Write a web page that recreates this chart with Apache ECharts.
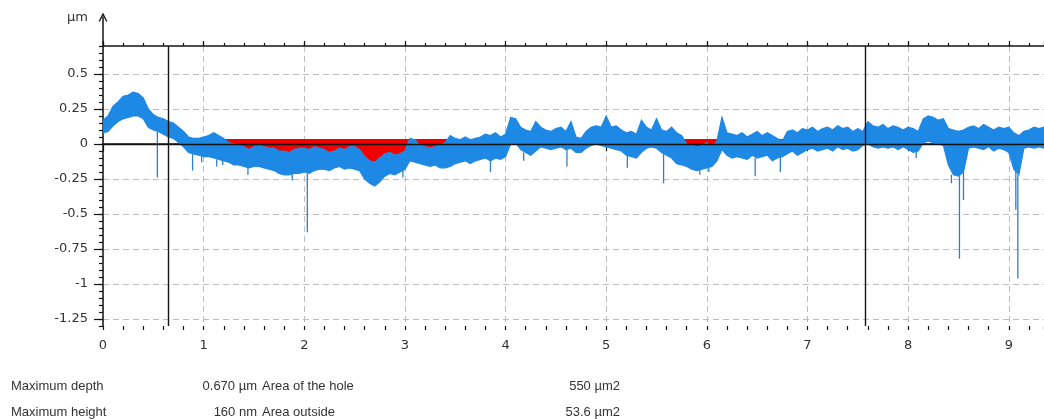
<!DOCTYPE html>
<html>
<head>
<meta charset="utf-8">
<title>Surface profile</title>
<script src="https://cdn.jsdelivr.net/npm/echarts@6/dist/echarts.min.js"></script>
<style>
  html, body { margin: 0; padding: 0; background: #ffffff; }
  #chart { width: 1044px; height: 419px; }
</style>
</head>
<body>
<div id="chart"></div>
<script>
// Profile sampling step along the scan, µm
const STEP = 0.05;

// Upper and lower edge of the measured profile band (µm), one value per step from 0 to 9.35
const PROFILE_TOP = [
  0.17, 0.20, 0.27, 0.30, 0.34, 0.35, 0.37, 0.36, 0.33, 0.25,
  0.21, 0.19, 0.18, 0.16, 0.15, 0.12, 0.09, 0.05, 0.04, 0.04,
  0.05, 0.06, 0.08, 0.06, 0.04, 0.01, 0.00, -0.01, -0.02, -0.04,
  -0.02, -0.01, -0.02, -0.03, -0.03, -0.05, -0.05, -0.06, -0.04, -0.03,
  -0.03, -0.04, -0.02, -0.03, -0.04, -0.06, -0.05, -0.03, -0.04, -0.02,
  -0.02, -0.04, -0.09, -0.12, -0.13, -0.10, -0.07, -0.06, -0.08, -0.07,
  -0.05, 0.04, 0.03, -0.01, -0.02, -0.03, -0.02, -0.01, 0.01, 0.06,
  0.04, 0.03, 0.05, 0.03, 0.04, 0.05, 0.07, 0.06, 0.08, 0.05,
  0.07, 0.19, 0.18, 0.12, 0.10, 0.09, 0.16, 0.12, 0.10, 0.09,
  0.11, 0.12, 0.09, 0.16, 0.05, 0.04, 0.09, 0.12, 0.13, 0.12,
  0.20, 0.12, 0.13, 0.10, 0.08, 0.09, 0.07, 0.17, 0.12, 0.10,
  0.18, 0.10, 0.09, 0.12, 0.08, 0.06, 0.00, -0.01, -0.02, -0.01,
  0.01, -0.02, 0.02, 0.19, 0.08, 0.07, 0.06, 0.08, 0.05, 0.07,
  0.09, 0.06, 0.08, 0.06, 0.04, 0.02, 0.09, 0.10, 0.08, 0.11,
  0.10, 0.12, 0.09, 0.11, 0.12, 0.10, 0.13, 0.11, 0.12, 0.09,
  0.11, 0.09, 0.16, 0.13, 0.12, 0.14, 0.11, 0.13, 0.12, 0.10,
  0.12, 0.11, 0.09, 0.18, 0.20, 0.19, 0.17, 0.18, 0.11, 0.10,
  0.09, 0.10, 0.12, 0.13, 0.11, 0.14, 0.12, 0.10, 0.12, 0.11,
  0.12, 0.08, 0.06, 0.09, 0.10, 0.12, 0.11, 0.12
];
const PROFILE_LOW = [
  0.08, 0.09, 0.13, 0.16, 0.18, 0.19, 0.20, 0.20, 0.18, 0.12,
  0.10, 0.09, 0.07, 0.05, 0.04, 0.01, -0.02, -0.06, -0.07, -0.08,
  -0.09, -0.09, -0.10, -0.11, -0.12, -0.13, -0.15, -0.15, -0.16, -0.17,
  -0.16, -0.16, -0.17, -0.18, -0.19, -0.21, -0.22, -0.22, -0.21, -0.21,
  -0.20, -0.21, -0.19, -0.18, -0.18, -0.19, -0.17, -0.16, -0.18, -0.17,
  -0.18, -0.19, -0.25, -0.28, -0.30, -0.27, -0.23, -0.21, -0.22, -0.20,
  -0.18, -0.12, -0.13, -0.14, -0.15, -0.16, -0.15, -0.17, -0.17, -0.16,
  -0.14, -0.13, -0.12, -0.14, -0.12, -0.11, -0.10, -0.12, -0.10, -0.11,
  -0.09, 0.00, 0.01, -0.04, -0.06, -0.08, -0.05, -0.02, -0.03, -0.04,
  -0.03, -0.02, -0.04, -0.03, -0.06, -0.06, -0.03, -0.01, 0.00, -0.01,
  -0.02, -0.03, -0.04, -0.05, -0.08, -0.09, -0.10, -0.06, -0.03, -0.02,
  -0.03, -0.06, -0.08, -0.10, -0.14, -0.15, -0.16, -0.18, -0.19, -0.18,
  -0.17, -0.16, -0.12, -0.04, -0.08, -0.10, -0.09, -0.10, -0.11, -0.08,
  -0.10, -0.09, -0.08, -0.12, -0.10, -0.09, -0.07, -0.05, -0.08, -0.06,
  -0.04, -0.03, -0.05, -0.04, -0.03, -0.05, -0.02, -0.04, -0.03, -0.05,
  -0.04, -0.01, 0.00, -0.02, -0.03, -0.02, -0.03, -0.02, -0.04, -0.02,
  -0.04, -0.06, -0.05, 0.01, 0.02, 0.01, 0.00, -0.01, -0.15, -0.22,
  -0.23, -0.20, -0.03, -0.02, -0.03, -0.04, -0.02, -0.05, -0.03, -0.04,
  -0.06, -0.18, -0.22, -0.03, -0.02, -0.03, -0.02, -0.03
];

// Narrow downward spikes: position (µm) and lowest value (µm)
const SPIKE_X     = [0.54, 0.89, 0.98, 1.13, 1.19, 1.44, 1.88, 2.03, 2.98, 3.85, 4.18, 4.61, 5.21, 5.57, 5.93, 6.02, 6.48, 6.73, 8.08, 8.43, 8.51, 8.55, 9.07, 9.09];
const SPIKE_DEPTH = [-0.24, -0.19, -0.13, -0.16, -0.15, -0.22, -0.26, -0.63, -0.24, -0.20, -0.12, -0.16, -0.17, -0.28, -0.22, -0.20, -0.23, -0.20, -0.10, -0.28, -0.82, -0.40, -0.47, -0.96];

// Measurement cursors (µm) and the reference level of the hole (µm)
const CURSORS = [0.646, 7.565];
const HOLE_LEVEL = 0.035;

// Axis ranges
const X_RANGE = [0, 9.35];
const Y_RANGE = [-1.3, 0.7];
const Y_LABEL_RANGE = [-1.25, 0.5];

// Results table
const STAT_NAMES  = ['Maximum depth', 'Maximum height'];
const STAT_VALUES = ['0.670 µm', '160 nm'];
const AREA_NAMES  = ['Area of the hole', 'Area outside'];
const AREA_VALUES = ['550 µm2', '53.6 µm2'];

const FONT = '"Liberation Sans", Arial, sans-serif';
const TICK_FONT = '"DejaVu Sans", Verdana, sans-serif';
const BLUE = '#1e88e5';
const SPIKE_BLUE = '#2f7fc6';
const INK = '#141414';
const GRID_DASH = { type: [6, 4], color: '#bdbdbd', width: 1 };

const xs = PROFILE_TOP.map((_, i) => +(i * STEP).toFixed(2));
const bandRows = xs.map((x, i) => [x, PROFILE_TOP[i], PROFILE_LOW[i]]);
const holeData = xs.map((x, i) => [x,
  (x >= CURSORS[0] && x <= CURSORS[1]) ? Math.min(PROFILE_TOP[i], HOLE_LEVEL) : HOLE_LEVEL]);
const spikeData = [];
SPIKE_X.forEach((x, k) => {
  const base = PROFILE_LOW[Math.round(x / STEP)];
  spikeData.push([x, base], [x, SPIKE_DEPTH[k]], [x, '-']);
});

// The profile band is one closed outline: along the upper edge, back along the lower edge
function renderBand(params, api) {
  if (params.dataIndex !== 0) return null;
  const pts = [];
  for (let i = 0; i < bandRows.length; i++) pts.push(api.coord([bandRows[i][0], bandRows[i][1]]));
  for (let i = bandRows.length - 1; i >= 0; i--) pts.push(api.coord([bandRows[i][0], bandRows[i][2]]));
  return {
    type: 'polygon',
    shape: { points: pts },
    style: { fill: BLUE, stroke: BLUE, lineWidth: 1.2, lineJoin: 'miter' }
  };
}

const hidden = { show: false };
const tickOnly = (len) => ({ show: true, length: len, lineStyle: { color: INK, width: 1.2 } });

const tableTexts = [];
[[STAT_NAMES, 11, 'left'], [STAT_VALUES, 257, 'right'], [AREA_NAMES, 262, 'left'], [AREA_VALUES, 620, 'right']]
  .forEach(([col, x, align]) => {
    col.forEach((t, r) => {
      tableTexts.push({
        type: 'text', x: x, y: 386 + r * 26, silent: true,
        style: { text: t, font: '13px ' + FONT, fill: '#333', align: align, verticalAlign: 'middle',
                 textAlign: align, textVerticalAlign: 'middle' }
      });
    });
  });

const chart = echarts.init(document.getElementById('chart'), null, { renderer: 'canvas' });
chart.setOption({
  animation: false,
  backgroundColor: '#ffffff',
  grid: [
    { left: 103, right: 0, top: 46, bottom: 93, outerBoundsMode: 'none' },
    { left: 103, right: 0, top: 74, bottom: 100, outerBoundsMode: 'none' },
    { left: 103, right: 0, top: 17, bottom: 93, outerBoundsMode: 'none' }
  ],
  xAxis: [
    { gridIndex: 0, type: 'value', position: 'bottom', min: X_RANGE[0], max: X_RANGE[1], interval: 1,
      axisLine: { show: true, lineStyle: { color: INK, width: 1.5 } },
      axisTick: tickOnly(7),
      axisLabel: { margin: 13, color: '#333', fontSize: 13, fontFamily: TICK_FONT, showMaxLabel: false },
      splitLine: { show: true, lineStyle: GRID_DASH } },
    { gridIndex: 0, type: 'value', position: 'bottom', min: X_RANGE[0], max: X_RANGE[1], interval: 0.2,
      axisLine: hidden, axisTick: tickOnly(4), axisLabel: hidden, splitLine: hidden },
    { gridIndex: 0, type: 'value', position: 'top', min: X_RANGE[0], max: X_RANGE[1], interval: 1,
      axisLine: { show: true, lineStyle: { color: INK, width: 1.5 } },
      axisTick: tickOnly(5), axisLabel: hidden, splitLine: hidden },
    { gridIndex: 0, type: 'value', position: 'top', min: X_RANGE[0], max: X_RANGE[1], interval: 0.2,
      axisLine: hidden, axisTick: tickOnly(3), axisLabel: hidden, splitLine: hidden },
    { gridIndex: 1, type: 'value', show: false, min: 0, max: 1 },
    { gridIndex: 2, type: 'value', show: false, min: 0, max: 1 }
  ],
  yAxis: [
    { gridIndex: 0, type: 'value', min: Y_RANGE[0], max: Y_RANGE[1], interval: 0.05,
      axisLine: hidden, axisTick: tickOnly(4), axisLabel: hidden, splitLine: hidden },
    { gridIndex: 1, type: 'value', min: Y_LABEL_RANGE[0], max: Y_LABEL_RANGE[1], interval: 0.25,
      axisLine: hidden, axisTick: tickOnly(9),
      axisLabel: { margin: 15, color: '#333', fontSize: 13, fontFamily: TICK_FONT },
      splitLine: { show: true, lineStyle: GRID_DASH } },
    { gridIndex: 2, type: 'value', min: 0, max: 1,
      axisLine: { show: true, lineStyle: { color: INK, width: 1.5 },
                  symbol: ['none', 'path://M0,10L5,0L10,10L8.4,10L5,3.2L1.6,10Z'], symbolSize: [9, 11] },
      axisTick: hidden, axisLabel: hidden, splitLine: hidden,
      name: 'µm', nameLocation: 'end', nameGap: -1,
      nameTextStyle: { color: '#333', fontSize: 13, fontFamily: TICK_FONT, align: 'right',
                       verticalAlign: 'middle', padding: [0, 15, 0, 0] } }
  ],
  series: [
    { name: 'hole', type: 'line', xAxisIndex: 0, yAxisIndex: 0, data: holeData,
      symbol: 'none', lineStyle: { width: 0 },
      areaStyle: { color: '#f20000', opacity: 1, origin: HOLE_LEVEL }, z: 2, silent: true },
    { name: 'profile', type: 'custom', xAxisIndex: 0, yAxisIndex: 0, data: bandRows,
      encode: { x: 0, y: [1, 2] }, renderItem: renderBand, clip: true, z: 3, silent: true },
    { name: 'spikes', type: 'line', xAxisIndex: 0, yAxisIndex: 0, data: spikeData,
      symbol: 'none', connectNulls: false, lineStyle: { color: SPIKE_BLUE, width: 1.3 }, z: 4, silent: true,
      markLine: {
        silent: true, symbol: ['none', 'none'], label: { show: false },
        lineStyle: { type: 'solid', color: INK, width: 1.4 },
        data: [{ yAxis: 0 }, { xAxis: CURSORS[0] }, { xAxis: CURSORS[1] }]
      } }
  ],
  graphic: { elements: tableTexts }
});
</script>
</body>
</html>
